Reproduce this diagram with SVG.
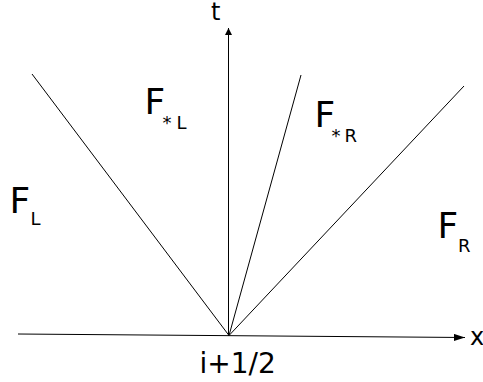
<svg xmlns="http://www.w3.org/2000/svg" width="483" height="382" viewBox="0 0 483 382">
<style>
.ln{stroke:#000;stroke-width:1;fill:none}
.big{font-family:"DejaVu Sans",sans-serif;font-size:36px;fill:#000}
.sub{font-family:"DejaVu Sans",sans-serif;font-size:18px;fill:#000}
.lab{font-family:"DejaVu Sans",sans-serif;fill:#000}
</style>
<defs>
<marker id="arT" markerUnits="userSpaceOnUse" markerWidth="8" markerHeight="8" refX="7" refY="3.5" orient="auto"><path d="M0,0 L7,3.5 L0,7 Z" fill="#000"/></marker>
<marker id="arX" markerUnits="userSpaceOnUse" markerWidth="12" markerHeight="8" refX="11" refY="3.5" orient="auto"><path d="M0,0 L11,3.5 L0,7 Z" fill="#000"/></marker>
</defs>
<rect width="483" height="382" fill="#fff"/>
<g id="connectors">
<line class="ln" x1="18" y1="334" x2="465" y2="337.5" marker-end="url(#arX)"/>
<line class="ln" x1="228.5" y1="335.5" x2="228.5" y2="28" marker-end="url(#arT)"/>
<line class="ln" x1="229" y1="335.5" x2="32" y2="74"/>
<line class="ln" x1="229" y1="335.5" x2="301" y2="75"/>
<line class="ln" x1="229" y1="335.5" x2="464" y2="86"/>
</g>
<g id="label-t"><text class="lab" x="211" y="20" font-size="24">t</text></g>
<g id="label-x"><text class="lab" x="470" y="345" font-size="24">x</text></g>
<g id="label-i"><text class="lab" x="199.5" y="373" font-size="28">i+1/2</text></g>
<g id="F-L"><text class="big" x="9.5" y="212.5">F</text><text class="sub" x="30.5" y="225">L</text></g>
<g id="F-starL"><text class="big" x="144.5" y="114">F</text><text class="sub" x="162.5" y="129">*</text><text class="sub" x="176.5" y="129">L</text></g>
<g id="F-starR"><text class="big" x="314.5" y="126.5">F</text><text class="sub" x="331.5" y="142">*</text><text class="sub" x="344.5" y="142">R</text></g>
<g id="F-R"><text class="big" x="437.5" y="238">F</text><text class="sub" x="458" y="251.5">R</text></g>
</svg>
